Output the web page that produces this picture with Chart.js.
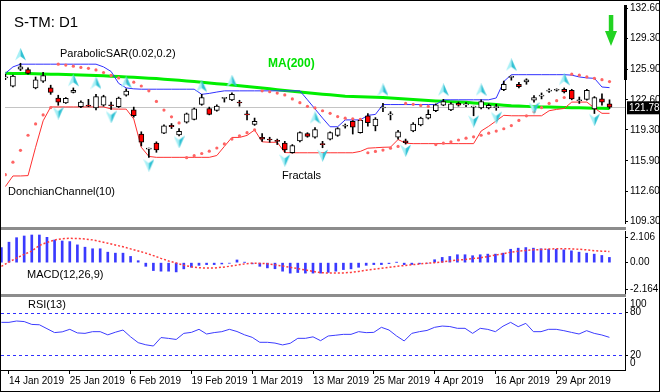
<!DOCTYPE html>
<html>
<head>
<meta charset="utf-8">
<script src="https://cdn.jsdelivr.net/npm/chart.js@4.4.1/dist/chart.umd.min.js"></script>
<style>
  body { margin: 0; background: #fff; }
  #wrap { position: relative; width: 660px; height: 392px; overflow: hidden; }
  canvas { position: absolute; left: 0; }
  .sep { position: absolute; left: 0; width: 626px; background: #8c8c8c; }
  #frame { position: absolute; left: 0; top: 0; width: 658px; height: 390px; border: 1px solid #000; pointer-events: none; }
</style>
</head>
<body>
<div id="wrap">
  <canvas id="main" width="660" height="228" style="top:0"></canvas>
  <div class="sep" style="top:227px;height:3px"></div>
  <canvas id="macd" width="660" height="65" style="top:230px"></canvas>
  <div class="sep" style="top:294px;height:3px"></div>
  <canvas id="rsi" width="660" height="95" style="top:297px"></canvas>
  <div id="frame"></div>
</div>
<script>
// bars: 11 Jan 2019 .. 8 May 2019 (daily)
const dates = ['11 Jan 2019','14 Jan 2019','15 Jan 2019','16 Jan 2019','17 Jan 2019','18 Jan 2019','22 Jan 2019','23 Jan 2019','24 Jan 2019','25 Jan 2019',
  '28 Jan 2019','29 Jan 2019','30 Jan 2019','31 Jan 2019','1 Feb 2019','4 Feb 2019','5 Feb 2019','6 Feb 2019','7 Feb 2019','8 Feb 2019',
  '11 Feb 2019','12 Feb 2019','13 Feb 2019','14 Feb 2019','15 Feb 2019','19 Feb 2019','20 Feb 2019','21 Feb 2019','22 Feb 2019','25 Feb 2019',
  '26 Feb 2019','27 Feb 2019','28 Feb 2019','1 Mar 2019','4 Mar 2019','5 Mar 2019','6 Mar 2019','7 Mar 2019','8 Mar 2019','11 Mar 2019',
  '12 Mar 2019','13 Mar 2019','14 Mar 2019','15 Mar 2019','18 Mar 2019','19 Mar 2019','20 Mar 2019','21 Mar 2019','22 Mar 2019','25 Mar 2019',
  '26 Mar 2019','27 Mar 2019','28 Mar 2019','29 Mar 2019','1 Apr 2019','2 Apr 2019','3 Apr 2019','4 Apr 2019','5 Apr 2019','8 Apr 2019',
  '9 Apr 2019','10 Apr 2019','11 Apr 2019','12 Apr 2019','15 Apr 2019','16 Apr 2019','17 Apr 2019','18 Apr 2019','22 Apr 2019','23 Apr 2019',
  '24 Apr 2019','25 Apr 2019','26 Apr 2019','29 Apr 2019','30 Apr 2019','1 May 2019','2 May 2019','3 May 2019','6 May 2019','7 May 2019','8 May 2019'];

const open  = [125.0,124.1,125.95,125.9,123.9,124.65,123.9,122.8,122.25,123.4,121.85,121.95,121.7,122.0,122.0,121.85,123.1,121.5,118.85,117.2,
  117.85,118.95,119.8,118.75,120.15,120.45,122.1,121.65,121.45,122.75,122.6,122.3,121.0,119.9,118.5,118.25,118.1,117.85,116.8,118.1,
  118.9,118.5,117.75,118.3,118.7,119.7,120.25,119.0,120.85,119.75,121.7,120.95,118.5,118.1,119.2,119.85,120.6,121.4,122.0,121.5,
  122.2,122.05,121.8,121.7,121.7,121.75,123.7,125.05,124.3,124.55,122.55,123.0,123.55,123.65,123.75,123.65,122.5,122.65,121.6,122.7,122.15];
const high  = [125.4,125.3,126.6,126.1,125.1,125.6,124.2,123.1,122.85,123.9,122.5,122.65,123.2,123.1,122.35,122.9,123.8,121.8,119.1,117.3,
  118.0,119.85,120.0,119.45,121.15,121.7,123.2,121.8,122.05,122.85,123.35,122.55,121.4,120.6,118.9,118.5,118.3,118.05,117.7,119.1,
  119.0,119.55,118.05,119.1,119.55,119.95,120.4,120.4,121.1,120.65,122.2,121.3,119.25,118.3,120.1,120.7,121.5,122.15,122.65,122.3,
  122.35,122.3,121.9,122.6,122.15,122.1,124.65,125.2,124.5,124.9,123.05,123.35,123.8,123.8,123.9,123.75,122.9,123.75,122.95,123.25,122.6];
const low   = [124.8,124.0,125.8,125.4,123.8,124.5,123.2,122.0,122.2,123.35,121.75,121.85,121.5,121.9,121.55,121.75,123.0,120.7,117.55,116.3,
  116.85,118.9,119.45,118.65,120.05,120.4,122.0,120.95,121.35,122.35,122.5,121.9,120.4,119.8,118.05,117.95,117.7,116.85,116.75,118.0,
  118.5,118.4,117.35,118.2,118.6,119.5,118.85,118.95,119.7,119.2,121.3,120.4,118.3,117.75,119.1,119.75,120.5,121.3,121.95,121.4,
  121.9,121.85,120.85,121.6,121.6,121.45,123.6,124.75,123.9,124.3,122.35,122.7,123.4,123.55,123.35,122.6,122.2,122.55,121.1,122.0,121.65];
const close = [125.1,125.2,126.2,125.5,124.8,125.25,123.4,122.35,122.75,123.65,122.35,121.9,122.95,122.95,121.95,122.8,123.55,120.85,117.95,117.25,
  117.1,119.75,119.65,119.15,121.05,121.6,122.85,121.0,121.9,122.8,123.2,122.25,120.95,120.25,118.3,118.2,118.05,117.1,117.6,119.0,
  118.6,119.35,117.7,119.0,119.45,119.75,119.6,120.35,120.1,120.5,121.75,121.0,119.1,117.9,119.95,120.6,121.0,122.05,122.4,122.15,
  122.0,122.1,121.85,122.4,122.0,121.8,124.3,125.1,124.05,124.8,122.85,123.1,123.6,123.7,123.45,122.7,122.55,123.65,122.85,122.35,121.78];

const ma200 = [125.50,125.49,125.48,125.47,125.46,125.43,125.41,125.39,125.37,125.34,125.31,125.28,125.25,125.22,125.18,125.14,125.10,125.06,125.01,124.96,
  124.92,124.86,124.80,124.74,124.67,124.60,124.52,124.45,124.37,124.29,124.22,124.14,124.06,123.97,123.88,123.80,123.71,123.62,123.54,123.45,
  123.37,123.29,123.21,123.14,123.07,123.00,122.97,122.93,122.90,122.87,122.84,122.79,122.74,122.69,122.64,122.58,122.53,122.48,122.44,122.40,
  122.36,122.32,122.26,122.20,122.14,122.08,122.01,121.95,121.91,121.88,121.85,121.82,121.80,121.78,121.76,121.74,121.72,121.70,121.68,121.67,121.66];

const donchUp = [125.5,126.2,126.5,126.5,126.5,126.5,126.5,126.5,126.5,126.5,126.5,126.5,126.5,126.2,125.7,124.4,123.9,123.8,123.76,123.76,
  123.76,123.76,123.76,123.76,123.76,123.76,123.2,123.3,123.45,123.58,123.58,123.58,123.58,123.58,123.58,123.58,123.58,123.58,123.58,123.58,
  122.6,121.6,120.6,119.65,119.65,120.4,120.4,120.4,120.9,121.0,122.08,122.08,122.08,122.08,122.08,122.08,122.08,122.08,122.6,122.6,
  122.6,122.6,122.6,122.6,122.6,122.8,124.6,125.35,125.35,125.35,125.35,125.35,125.35,125.35,125.35,125.3,125.1,125.0,124.95,124.0,123.93];
const donchLow = [113.1,114.26,114.26,114.3,117.4,120.3,121.82,121.82,121.82,121.82,121.82,121.82,121.82,121.82,121.6,121.58,121.58,120.5,117.4,116.4,
  116.3,116.3,116.3,116.3,116.3,116.3,116.3,116.3,116.5,117.5,118.48,118.48,118.7,119.3,118.0,117.95,117.95,116.82,116.8,116.8,
  116.8,116.8,116.8,116.8,116.8,116.8,116.8,116.95,117.3,117.35,117.4,117.42,118.25,117.85,117.8,117.8,117.8,117.8,117.8,117.8,
  117.8,117.8,117.8,119.18,119.7,120.3,120.9,120.85,120.85,120.85,120.85,120.85,121.4,121.55,121.65,122.35,122.35,122.35,121.7,121.12,121.12];

const sar = [114.4,115.77,117.07,118.72,119.96,120.94,121.75,126.5,126.4,126.28,126.15,126.05,125.87,125.59,125.27,124.99,124.64,124.53,124.11,123.58,
  122.42,121.47,120.74,120.07,116.26,116.48,116.72,116.97,117.32,117.77,118.3,118.65,119.0,119.3,123.58,123.48,123.34,123.13,122.7,122.28,
  121.89,121.71,121.4,121.12,120.76,120.59,120.52,120.46,116.8,116.95,117.1,117.3,117.5,122.2,122.1,121.98,121.87,117.7,117.85,118.0,
  118.2,118.4,118.55,118.72,118.94,119.18,119.43,119.78,120.34,120.84,121.29,121.75,122.2,122.5,122.85,125.41,125.3,125.1,124.95,124.8,124.6];

const fracUpBar   = [2,9,12,16,26,30,41,50,58,63,67,74];
const fracUpPrice = [127.58,124.74,124.43,124.53,124.11,124.64,120.63,123.69,123.69,123.69,126.43,124.85];
const fracDnBar   = [7,14,19,23,37,42,53,62,65,70,78];
const fracDnPrice = [121.15,120.73,115.45,117.99,115.98,116.51,117.04,120.25,120.63,121.68,120.41];

const macdHist = [1.24,1.68,2.05,2.19,2.27,2.27,2.08,1.86,1.78,1.73,1.46,1.27,1.14,1.14,0.86,0.78,0.78,0.51,0.16,-0.30,
  -0.65,-0.70,-0.70,-0.76,-0.51,-0.38,-0.22,-0.16,-0.16,-0.11,-0.05,0.22,0.02,-0.10,-0.30,-0.43,-0.50,-0.70,-0.86,-0.81,
  -0.86,-0.86,-0.86,-0.80,-0.70,-0.57,-0.51,-0.38,-0.22,-0.16,-0.16,-0.08,0.02,-0.16,-0.15,-0.10,-0.05,0.24,0.43,0.51,
  0.65,0.65,0.57,0.65,0.70,0.70,0.78,1.10,1.19,1.24,1.19,1.14,1.10,1.10,1.05,0.97,0.86,0.78,0.70,0.59,0.43];
const macdSignal = [-0.30,0.05,0.38,0.68,0.95,1.42,1.66,1.86,1.97,2.00,1.98,1.95,1.87,1.73,1.60,1.45,1.30,1.13,0.96,0.78,
  0.58,0.35,0.14,-0.03,-0.22,-0.33,-0.42,-0.44,-0.44,-0.38,-0.30,-0.20,-0.10,-0.04,-0.06,-0.09,-0.18,-0.28,-0.38,-0.49,
  -0.60,-0.72,-0.82,-0.85,-0.84,-0.84,-0.80,-0.72,-0.62,-0.54,-0.46,-0.38,-0.30,-0.24,-0.17,-0.11,-0.05,0.00,0.06,0.14,
  0.22,0.25,0.33,0.40,0.50,0.62,0.73,0.86,0.94,1.00,1.05,1.08,1.12,1.14,1.15,1.13,1.10,1.05,0.98,0.94,0.92];

const rsi13 = [66.4,66.4,68.3,67.5,63.5,63.0,57.5,52.0,53.0,56.6,51.5,50.9,53.3,53.3,48.8,52.5,55.6,46.0,37.8,34.8,
  33.1,45.0,43.8,42.3,50.9,52.3,56.6,50.0,52.0,53.3,56.6,53.5,48.8,45.3,38.3,38.3,37.2,34.6,36.9,43.9,
  43.9,46.0,40.6,47.2,48.3,49.5,49.5,53.3,51.9,52.3,59.4,55.6,47.2,40.2,50.9,53.3,55.0,59.4,61.2,60.5,
  58.0,58.0,50.9,58.0,56.5,53.3,61.0,66.4,60.3,65.0,53.3,53.3,56.6,56.6,54.7,52.3,50.0,54.7,50.9,48.6,45.3];

const priceTicks = [132.60,129.30,125.90,122.60,119.30,115.90,112.60,109.30];
const macdTicks = [2.106,0,-2.164];
const rsiLevels = [80,20];
const dateTickBars = [1,9,17,25,33,41,49,57,65,73];

const xMin = -0.05, xMax = 82.05;
const idx = dates.map((d, i) => i);
const pts = arr => idx.map(i => ({x: i, y: arr[i]}));
const FONT = 'Arial, "Liberation Sans", sans-serif';

function arrowImg(up) {
  const c = document.createElement('canvas');
  c.width = 11; c.height = 13;
  const g = c.getContext('2d');
  if (!up) { g.translate(0, 13); g.scale(1, -1); }
  g.beginPath(); g.moveTo(5.5, 0); g.lineTo(0, 12.5); g.lineTo(5.5, 8.5); g.closePath();
  g.fillStyle = '#a8f0f6'; g.fill();
  g.beginPath(); g.moveTo(5.5, 0); g.lineTo(11, 12.5); g.lineTo(5.5, 8.5); g.closePath();
  g.fillStyle = '#30c2d4'; g.fill();
  return c;
}

function yAxis(min, max, ticks, fmt) {
  return {
    position: 'right', min: min, max: max,
    afterBuildTicks: s => { s.ticks = ticks.map(v => ({value: v})); },
    afterFit: s => { s.width = 35; s.paddingTop = 0; s.paddingBottom = 0; },
    grid: {display: true, drawOnChartArea: false, drawTicks: true, tickLength: 3, color: '#000'},
    border: {display: true, color: '#000'},
    ticks: {color: '#000', font: {family: FONT, size: 10}, padding: 2, callback: fmt}
  };
}

const hiddenX = {type: 'linear', min: xMin, max: xMax, offset: false, display: false};
const baseOpts = {
  responsive: false, animation: false, maintainAspectRatio: false,
  layout: {padding: {left: 1, right: 0, top: 1, bottom: 1}},
  plugins: {legend: {display: false}, tooltip: {enabled: false}}
};

// main price panel
const mainOverlay = {
  id: 'mainOverlay',
  beforeDatasetsDraw(chart) {
    const {ctx, chartArea: a, scales: {y}} = chart;
    const py = Math.round(y.getPixelForValue(close[close.length - 1])) + 0.5;
    ctx.save();
    ctx.strokeStyle = '#c4c4c4'; ctx.lineWidth = 1;
    ctx.beginPath(); ctx.moveTo(a.left, py); ctx.lineTo(a.right, py); ctx.stroke();
    ctx.restore();
  },
  afterDraw(chart) {
    const {ctx, chartArea: a, scales: {y}} = chart;
    ctx.save();
    // thick mark on the price scale
    ctx.fillStyle = '#000';
    ctx.fillRect(a.right - 1, 5, 3, 75);
    // last price box
    const last = close[close.length - 1];
    const py = y.getPixelForValue(last);
    ctx.fillRect(a.right + 2, py - 6, 33, 13);
    ctx.fillStyle = '#fff';
    ctx.font = '10px ' + FONT; ctx.textBaseline = 'middle'; ctx.textAlign = 'left';
    ctx.fillText(last.toFixed(2), a.right + 4, py + 0.5);
    // labels
    ctx.fillStyle = '#000';
    ctx.font = '15px ' + FONT; ctx.textBaseline = 'alphabetic';
    ctx.fillText('S-TM: D1', 14, 27);
    ctx.font = '11px ' + FONT; ctx.textBaseline = 'middle';
    ctx.fillText('ParabolicSAR(0.02,0.2)', 60, 54);
    ctx.fillText('DonchianChannel(10)', 8, 192);
    ctx.fillText('Fractals', 282, 176);
    ctx.fillStyle = '#00e000';
    ctx.font = 'bold 12px ' + FONT;
    ctx.fillText('MA(200)', 268, 64);
    // green arrow
    ctx.fillStyle = '#22d322';
    ctx.fillRect(608.8, 15, 4.5, 17);
    ctx.beginPath(); ctx.moveTo(605, 31); ctx.lineTo(617, 31); ctx.lineTo(611, 46); ctx.closePath(); ctx.fill();
    ctx.restore();
  }
};

new Chart(document.getElementById('main'), {
  data: {
    datasets: [
      {type: 'line', data: pts(ma200), borderColor: '#00ee00', borderWidth: 3, pointRadius: 0, order: 6},
      {type: 'line', data: pts(donchUp), borderColor: '#3030ff', borderWidth: 1, pointRadius: 0, order: 5},
      {type: 'line', data: pts(donchLow), borderColor: '#ff3030', borderWidth: 1, pointRadius: 0, order: 5},
      {type: 'bar', data: idx.map(i => ({x: i, y: [low[i], high[i]]})), barThickness: 1, backgroundColor: '#000',
        grouped: false, order: 4},
      {type: 'bar', data: idx.map(i => ({x: i, y: [open[i], close[i]]})), barThickness: 5, minBarLength: 1,
        backgroundColor: idx.map(i => close[i] >= open[i] ? '#ffffff' : '#ff0000'),
        borderColor: '#000', borderWidth: 1, borderSkipped: false, grouped: false, order: 3},
      {type: 'scatter', data: pts(sar), pointStyle: 'circle', pointRadius: 1.6, backgroundColor: '#ff6464',
        borderWidth: 0, order: 2},
      {type: 'scatter', data: fracUpBar.map((b, k) => ({x: b, y: fracUpPrice[k]})), pointStyle: arrowImg(true), order: 1},
      {type: 'scatter', data: fracDnBar.map((b, k) => ({x: b, y: fracDnPrice[k]})), pointStyle: arrowImg(false), order: 1}
    ]
  },
  options: Object.assign({}, baseOpts, {
    scales: {
      x: hiddenX,
      y: yAxis(109.11, 132.98, priceTicks, v => v.toFixed(2))
    }
  }),
  plugins: [mainOverlay]
});

// MACD panel
new Chart(document.getElementById('macd'), {
  data: {
    datasets: [
      {type: 'bar', data: pts(macdHist), barThickness: 2, backgroundColor: '#3a3aff', order: 2},
      {type: 'line', data: pts(macdSignal), borderColor: '#ff3b3b', borderWidth: 1.5, borderDash: [2, 2],
        pointRadius: 0, order: 1}
    ]
  },
  options: Object.assign({}, baseOpts, {
    scales: {
      x: hiddenX,
      y: yAxis(-2.574, 2.599, macdTicks, v => v === 0 ? '0.00' : v.toFixed(3))
    }
  }),
  plugins: [{
    id: 'macdText',
    afterDraw(chart) {
      const ctx = chart.ctx;
      ctx.save();
      ctx.fillStyle = '#000'; ctx.font = '11px ' + FONT; ctx.textBaseline = 'middle';
      ctx.fillText('MACD(12,26,9)', 27, 45);
      ctx.restore();
    }
  }]
});

// RSI panel with date axis
new Chart(document.getElementById('rsi'), {
  data: {
    datasets: [
      {type: 'line', data: pts(rsi13), borderColor: '#3c3cff', borderWidth: 1, pointRadius: 0}
    ]
  },
  options: Object.assign({}, baseOpts, {
    scales: {
      x: {
        type: 'linear', min: xMin, max: xMax, position: 'bottom', offset: false,
        afterBuildTicks: s => { s.ticks = dateTickBars.map(v => ({value: v})); },
        afterFit: s => { s.height = 21; s.paddingLeft = 0; s.paddingRight = 0; },
        grid: {display: true, drawOnChartArea: false, drawTicks: true, tickLength: 4, color: '#000'},
        border: {display: true, color: '#000'},
        ticks: {color: '#000', font: {family: FONT, size: 10}, padding: 1, align: 'start',
          autoSkip: false, maxRotation: 0, callback: v => dates[v]}
      },
      y: yAxis(-0.7, 100.7, rsiLevels, v => String(v))
    }
  }),
  plugins: [{
    id: 'rsiExtras',
    beforeDatasetsDraw(chart) {
      const {ctx, chartArea: a, scales: {y}} = chart;
      ctx.save();
      ctx.strokeStyle = '#3030ff'; ctx.lineWidth = 1; ctx.setLineDash([3, 3]);
      rsiLevels.forEach(v => {
        const py = Math.round(y.getPixelForValue(v)) + 0.5;
        ctx.beginPath(); ctx.moveTo(a.left, py); ctx.lineTo(a.right, py); ctx.stroke();
      });
      ctx.restore();
    },
    afterDraw(chart) {
      const {ctx, chartArea: a, scales: {y}} = chart;
      ctx.save();
      ctx.fillStyle = '#000'; ctx.font = '10px ' + FONT; ctx.textBaseline = 'middle';
      ctx.fillText('100', a.right + 5, y.getPixelForValue(100) + 6);
      ctx.fillText('0', a.right + 5, y.getPixelForValue(0) - 6);
      ctx.font = '11px ' + FONT;
      ctx.fillText('RSI(13)', 28, 8);
      ctx.restore();
    }
  }]
});
</script>
</body>
</html>
